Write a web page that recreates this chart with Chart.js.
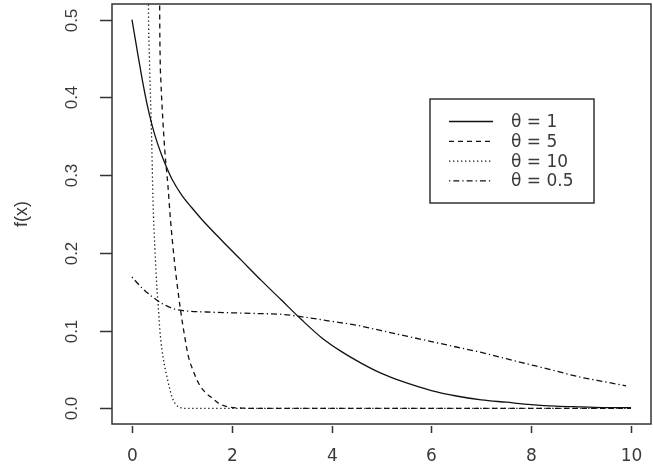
<!DOCTYPE html>
<html>
<head>
  <meta charset="UTF-8" />
  <title>f(x)</title>
  <script src="https://cdn.jsdelivr.net/npm/chart.js"></script>
  <style>
    html, body { margin: 0; padding: 0; background: #fff; }
    #wrap { width: 653px; height: 469px; }
  </style>
</head>
<body>
  <div id="wrap"><canvas id="densityChart"></canvas></div>

  <script>
    // values
    const xTheta1 = [0, 0.1, 0.2, 0.3, 0.4, 0.5, 0.6, 0.7, 0.8, 1.0, 1.2, 1.4, 1.8, 2.2, 2.6, 3.0, 3.4, 3.8, 4.2, 4.6, 5.0, 5.4, 6.0, 6.5, 7.0, 7.5, 8.0, 8.5, 9.0, 9.5, 10];
    const yTheta1 = [0.500, 0.462, 0.425, 0.392, 0.365, 0.343, 0.325, 0.309, 0.295, 0.274, 0.258, 0.243, 0.216, 0.190, 0.164, 0.139, 0.114, 0.091, 0.073, 0.058, 0.045, 0.035, 0.023, 0.016, 0.011, 0.008, 0.005, 0.003, 0.002, 0.001, 0.001];

    const xTheta5 = [0.54, 0.555, 0.565, 0.58, 0.62, 0.66, 0.72, 0.77, 0.85, 0.97, 1.05, 1.13, 1.23, 1.33, 1.45, 1.6, 1.75, 1.93, 2.2, 2.5, 10];
    const yTheta5 = [0.9, 0.52, 0.45, 0.42, 0.37, 0.33, 0.287, 0.244, 0.19, 0.128, 0.095, 0.067, 0.048, 0.033, 0.022, 0.0136, 0.006, 0.002, 0.0005, 0, 0];

    const xTheta10 = [0.30, 0.33, 0.35, 0.38, 0.40, 0.42, 0.46, 0.50, 0.53, 0.56, 0.60, 0.65, 0.70, 0.75, 0.80, 0.87, 0.93, 1.0, 1.1, 10];
    const yTheta10 = [0.9, 0.52, 0.45, 0.38, 0.33, 0.27, 0.205, 0.155, 0.128, 0.10, 0.076, 0.056, 0.041, 0.027, 0.015, 0.006, 0.002, 0.0005, 0, 0];

    const xTheta05 = [0, 0.2, 0.4, 0.6, 0.8, 1.0, 1.5, 2.0, 2.5, 3.0, 3.5, 4.0, 4.5, 5.0, 5.5, 6.0, 6.5, 7.0, 7.5, 8.0, 8.5, 9.0, 9.5, 9.9];
    const yTheta05 = [0.169, 0.155, 0.144, 0.135, 0.129, 0.126, 0.124, 0.123, 0.122, 0.121, 0.117, 0.112, 0.107, 0.100, 0.093, 0.086, 0.079, 0.072, 0.064, 0.056, 0.048, 0.040, 0.034, 0.029];

    const legendLabels = ['θ = 1', 'θ = 5', 'θ = 10', 'θ = 0.5'];
    const xTicks = [0, 2, 4, 6, 8, 10];
    const yTicks = [0.0, 0.1, 0.2, 0.3, 0.4, 0.5];
    const yTitle = 'f(x)';

    const ink = '#111';
    const textInk = '#3a3a3a';

    function toPoints(xs, ys) {
      return xs.map((x, i) => ({ x: x, y: ys[i] }));
    }

    function series(label, xs, ys, dash) {
      return {
        label: label,
        data: toPoints(xs, ys),
        showLine: true,
        borderColor: ink,
        borderWidth: 1.3,
        borderDash: dash,
        pointRadius: 0,
        cubicInterpolationMode: 'monotone'
      };
    }

    // R-style frame, ticks, labels and legend
    const rFrame = {
      id: 'rFrame',
      afterDraw(chart) {
        const ctx = chart.ctx;
        const a = chart.chartArea;
        const xs = chart.scales.x, ys = chart.scales.y;
        ctx.save();
        ctx.strokeStyle = '#333';
        ctx.lineWidth = 1.5;
        ctx.strokeRect(a.left, a.top, a.right - a.left, a.bottom - a.top);

        // x ticks
        ctx.fillStyle = textInk;
        ctx.font = '17px "DejaVu Sans"';
        ctx.textAlign = 'center';
        ctx.textBaseline = 'middle';
        xTicks.forEach(v => {
          const px = Math.round(xs.getPixelForValue(v)) + 0.5;
          ctx.beginPath();
          ctx.moveTo(px, a.bottom + 2);
          ctx.lineTo(px, a.bottom + 9);
          ctx.stroke();
          ctx.fillText(String(v), px, a.bottom + 33);
        });

        // y ticks (labels upright along the axis, as R does)
        ctx.font = '17px "Liberation Sans"';
        yTicks.forEach(v => {
          const py = Math.round(ys.getPixelForValue(v)) + 0.5;
          ctx.beginPath();
          ctx.moveTo(a.left - 12, py);
          ctx.lineTo(a.left, py);
          ctx.stroke();
          ctx.save();
          ctx.translate(72, py);
          ctx.rotate(-Math.PI / 2);
          ctx.fillText(v.toFixed(1), 0, 0);
          ctx.restore();
        });

        ctx.save();
        ctx.font = '18px "Liberation Sans"';
        ctx.translate(22, (a.top + a.bottom) / 2);
        ctx.rotate(-Math.PI / 2);
        ctx.fillText(yTitle, 0, 0);
        ctx.restore();

        // legend box
        const lx = 430, ly = 99, lw = 164, lh = 104;
        ctx.fillStyle = '#fff';
        ctx.fillRect(lx, ly, lw, lh);
        ctx.strokeRect(lx, ly, lw, lh);
        ctx.font = '17px "DejaVu Sans"';
        ctx.textAlign = 'left';
        chart.data.datasets.forEach((ds, i) => {
          const ry = 121.5 + i * 19.8;
          ctx.save();
          ctx.strokeStyle = ink;
          ctx.lineWidth = 1.3;
          ctx.setLineDash(ds.borderDash || []);
          ctx.beginPath();
          ctx.moveTo(449, ry);
          ctx.lineTo(493, ry);
          ctx.stroke();
          ctx.restore();
          ctx.fillStyle = textInk;
          ctx.fillText(legendLabels[i], 511, ry + 1);
        });
        ctx.restore();
      }
    };

    new Chart(document.getElementById('densityChart'), {
      type: 'scatter',
      data: {
        datasets: [
          series(legendLabels[0], xTheta1, yTheta1, []),
          series(legendLabels[1], xTheta5, yTheta5, [5, 4]),
          series(legendLabels[2], xTheta10, yTheta10, [1.3, 2.7]),
          series(legendLabels[3], xTheta05, yTheta05, [1.3, 3, 6, 3])
        ]
      },
      options: {
        responsive: true,
        maintainAspectRatio: false,
        animation: false,
        layout: { padding: { top: 4, right: 2, left: 0, bottom: 0 } },
        plugins: { legend: { display: false }, tooltip: { enabled: false } },
        scales: {
          x: {
            type: 'linear', min: -0.4, max: 10.4,
            grid: { display: false, drawTicks: false },
            border: { display: false },
            ticks: { display: false },
            afterFit: s => { s.height = 45; }
          },
          y: {
            type: 'linear', min: -0.02, max: 0.52,
            grid: { display: false, drawTicks: false },
            border: { display: false },
            ticks: { display: false },
            afterFit: s => { s.width = 112; }
          }
        }
      },
      plugins: [rFrame]
    });
  </script>
</body>
</html>
